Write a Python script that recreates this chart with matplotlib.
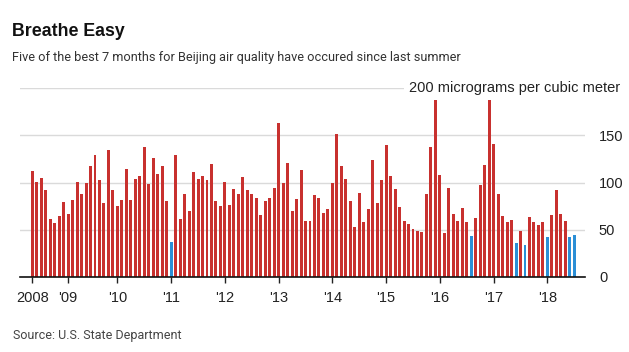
import matplotlib
matplotlib.use("Agg")
import matplotlib.pyplot as plt

# Monthly PM2.5 averages, Beijing (US Embassy), June 2008 - July 2018
values = [
    112, 101, 105, 92, 61, 57, 64, 79, 67, 81, 101, 88,
    99, 118, 129, 103, 78, 134, 92, 75, 81, 114, 81, 104,
    107, 138, 98, 126, 109, 118, 80, 37, 129, 61, 88, 70,
    111, 104, 107, 103, 120, 80, 75, 101, 76, 93, 88, 106,
    92, 88, 84, 66, 80, 84, 94, 163, 100, 121, 70, 83,
    113, 59, 59, 87, 84, 68, 72, 100, 152, 118, 104, 80,
    53, 89, 58, 72, 124, 78, 103, 140, 107, 93, 74, 59,
    56, 51, 48, 47, 88, 138, 192, 108, 46, 94, 67, 59,
    73, 58, 43, 62, 97, 119, 190, 141, 88, 64, 58, 60,
    36, 49, 34, 63, 58, 55, 58, 42, 65, 92, 67, 59,
    42, 44,
]
# months that rank among the 7 cleanest
best_months = [31, 98, 108, 110, 115, 120, 121]

year_labels = ["2008", "'09", "'10", "'11", "'12", "'13", "'14", "'15", "'16", "'17", "'18"]
year_ticks = [0, 8, 19, 31, 43, 55, 67, 79, 91, 103, 115]

RED = "#c8312f"
BLUE = "#2b8fd6"
FONT = ["Liberation Sans", "DejaVu Sans"]
NARROW = ["Roboto", "Liberation Sans", "DejaVu Sans"]

fig = plt.figure(figsize=(6.29, 3.52), dpi=100)
ax = fig.add_axes([20 / 629, 1 - 276.7 / 352, 565 / 629, (276.7 - 88.3) / 352])

x = list(range(len(values)))
colors = [BLUE if i in best_months else RED for i in x]
ax.bar(x, values, width=0.66, color=colors, zorder=2)

ax.set_xlim(-2.75, 123.4)
ax.set_ylim(0, 200)

ax.set_yticks([0, 50, 100, 150, 200])
ax.yaxis.grid(True, color="#dadada", linewidth=1, zorder=0)
ax.yaxis.tick_right()
ax.tick_params(axis="y", length=0, pad=10, labelsize=10.5, labelcolor="#222222")
ax.set_yticklabels(["0", "50", "100", "150", ""], family=FONT)

ax.set_xticks(year_ticks)
ax.set_xticklabels(year_labels, family=FONT, fontsize=10.5, color="#222222")
ax.tick_params(axis="x", length=4, width=1, color="#222222", pad=6)

for side in ["top", "right", "left"]:
    ax.spines[side].set_visible(False)
ax.spines["bottom"].set_color("#111111")
ax.spines["bottom"].set_linewidth(1.2)
ax.spines["bottom"].set_zorder(3)

ax.text(1.0615, 200, "200 micrograms per cubic meter", transform=ax.get_yaxis_transform(),
        ha="right", va="center", fontsize=10.5, family=FONT, color="#222222",
        bbox=dict(facecolor="white", edgecolor="none", pad=3), zorder=4)

fig.text(12 / 629, 1 - 31 / 352, "Breathe Easy", fontsize=12.8, fontweight="bold",
         family=FONT, color="#111111", va="center")
fig.text(12 / 629, 1 - 58 / 352,
         "Five of the best 7 months for Beijing air quality have occured since last summer",
         fontsize=9.2, family=NARROW, color="#333333", va="center")
fig.text(13 / 629, 1 - 335 / 352, "Source: U.S. State Department", fontsize=9,
         family=NARROW, color="#444444", va="center")

fig.savefig("out.png", dpi=100, facecolor="white")
